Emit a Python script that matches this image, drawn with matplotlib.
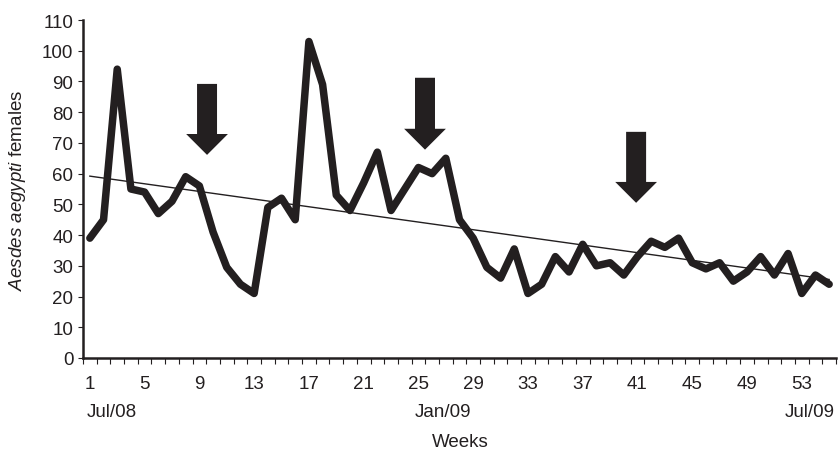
import numpy as np
import matplotlib
matplotlib.use("Agg")
import matplotlib.pyplot as plt
from matplotlib.patches import FancyArrow

plt.rcParams['font.family'] = ['Liberation Sans', 'DejaVu Sans']
plt.rcParams['mathtext.fontset'] = 'custom'
plt.rcParams['mathtext.rm'] = 'Liberation Sans'
plt.rcParams['mathtext.it'] = 'Liberation Sans:italic'

INK = "#231f20"

# weekly counts of Aedes aegypti females (weeks 1..55)
weeks = np.arange(1, 56)
females = [39, 45, 94, 55, 54, 47, 51, 59, 56, 41,
           29.5, 24, 21, 49, 52, 45, 103, 89, 53, 48,
           57, 67, 48, 55, 62, 60, 65, 45, 39, 29.5,
           26, 35.5, 21, 24, 33, 28, 37, 30, 31, 27,
           33, 38, 36, 39, 31, 29, 31, 25, 28, 33,
           27, 34, 21, 27, 24]

week_labels = list(range(1, 54, 4))
month_labels = ["Jul/08", "Jan/09", "Jul/09"]
month_weeks = [0.8, 24.7, 55.4]

# intervention arrows: week, top of shaft, tip
arrow_weeks = [9.56, 25.48, 40.9]
arrow_tops = [89.2, 91.2, 73.6]
arrow_tips = [66.1, 67.8, 50.5]

fig = plt.figure(figsize=(8.38, 4.56), dpi=100)
ax = fig.add_axes([83 / 838, 1 - 359 / 456, 753 / 838, 338 / 456])

ax.plot(weeks, females, color=INK, lw=5.4, solid_joinstyle='round', solid_capstyle='round', zorder=3)

# linear trend
slope, icpt = np.polyfit(weeks, females, 1)
ax.plot([weeks[0], weeks[-1]], [icpt + slope * weeks[0], icpt + slope * weeks[-1]],
        color=INK, lw=1.0, zorder=4)

for wk, top, tip in zip(arrow_weeks, arrow_tops, arrow_tips):
    ax.add_patch(FancyArrow(wk, top, 0, tip - top, width=1.46, head_width=3.05,
                            head_length=6.8, length_includes_head=True,
                            color=INK, lw=0, zorder=5))

ax.set_xlim(0.5, 55.5)
ax.set_ylim(0, 110)
ax.set_yticks(range(0, 111, 10))
ax.set_xticks(week_labels)
ax.set_xticks(np.arange(0.5, 55.6, 1), minor=True)

for s in ['top', 'right']:
    ax.spines[s].set_visible(False)
for s in ['left', 'bottom']:
    ax.spines[s].set_linewidth(1.8)
    ax.spines[s].set_color(INK)

ax.tick_params(axis='x', which='major', length=0, pad=12, labelsize=13.5, labelcolor=INK)
ax.tick_params(axis='x', which='minor', length=4.3, width=0.8, color=INK, direction='out')
ax.tick_params(axis='y', length=3.5, width=0.8, color=INK, pad=3.5, labelsize=13.5, labelcolor=INK)

# month labels below the week numbers
for lab, wk, ha in zip(month_labels, month_weeks, ['left', 'left', 'right']):
    ax.text(wk, -(413 - 359) / 338, lab, transform=ax.get_xaxis_transform(), ha=ha, va='center',
            fontsize=13.5, color=INK)

fig.text(460 / 838, 1 - 443 / 456, "Weeks", ha='center', va='center', fontsize=13.5, color=INK)
fig.text(18 / 838, 1 - 190 / 456, r"$\mathit{Aesdes\ aegypti}$ females", rotation=90,
         ha='center', va='center', fontsize=13.5, color=INK)

fig.savefig("out.png", dpi=100)
